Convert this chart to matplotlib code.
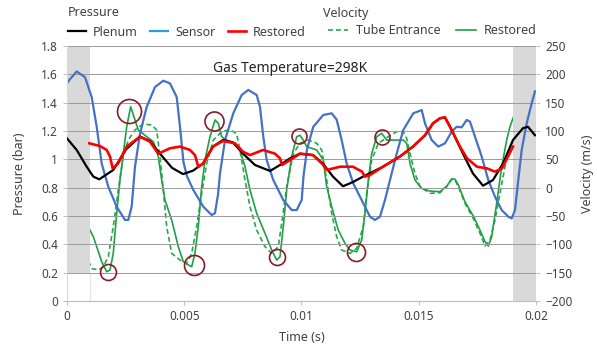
import numpy as np
import matplotlib
matplotlib.use("Agg")
import matplotlib.pyplot as plt
from matplotlib.lines import Line2D

plt.rcParams['font.family'] = ['Noto Sans', 'DejaVu Sans']

# ---- data (time in ms, pressure in bar, velocity in m/s) ----
t_plenum = [0, 0.414, 0.840, 1.122, 1.377, 1.974, 2.516, 3.113, 3.539, 3.966, 4.478, 4.947,
            5.373, 5.800, 6.226, 6.653, 7.079, 7.506, 8.018, 8.657, 9.084, 9.510, 9.936,
            10.491, 10.917, 11.344, 11.770, 12.196, 12.623, 13.476, 14.200, 14.755, 15.267,
            15.608, 15.906, 16.119, 16.333, 16.887, 17.313, 17.740, 18.166, 18.593, 19.019,
            19.446, 19.659, 19.957]
p_plenum = [1.148, 1.066, 0.948, 0.878, 0.859, 0.925, 1.07, 1.16, 1.13, 1.04, 0.94, 0.896,
            0.92, 0.97, 1.09, 1.137, 1.12, 1.04, 0.96, 0.918, 0.96, 1.007, 1.04,
            1.03, 0.97, 0.878, 0.81, 0.84, 0.878, 0.948, 1.02, 1.09, 1.17,
            1.254, 1.29, 1.296, 1.23, 1.04, 0.90, 0.814, 0.854, 0.97, 1.136,
            1.22, 1.23, 1.17]

t_sensor = [0.021, 0.098, 0.414, 0.768, 1.053, 1.267, 1.480, 1.761, 2.119, 2.473, 2.614,
            2.759, 2.900, 3.113, 3.399, 3.753, 4.107, 4.392, 4.678, 4.819, 4.968, 5.117,
            5.386, 5.812, 6.171, 6.311, 6.439, 6.525, 6.738, 7.092, 7.450, 7.731, 8.090,
            8.230, 8.371, 8.516, 8.797, 9.224, 9.582, 9.795, 10.009, 10.085, 10.235,
            10.503, 10.930, 11.288, 11.501, 11.714, 11.927, 12.209, 12.635, 12.921, 13.134,
            13.347, 13.561, 13.774, 14.060, 14.341, 14.768, 15.126, 15.267, 15.553, 15.834,
            16.119, 16.405, 16.619, 16.832, 17.045, 17.186, 17.399, 17.685, 17.966, 18.252,
            18.537, 18.819, 18.964, 19.104, 19.245, 19.390, 19.603, 19.816, 19.957]
p_sensor = [1.54, 1.56, 1.62, 1.58, 1.44, 1.23, 0.97, 0.807, 0.666, 0.572, 0.572,
            0.666, 0.948, 1.18, 1.37, 1.51, 1.555, 1.536, 1.44, 1.23, 0.98, 0.88,
            0.784, 0.666, 0.607, 0.62, 0.75, 0.90, 1.136, 1.325, 1.454, 1.49, 1.454,
            1.37, 1.16, 0.995, 0.854, 0.713, 0.642, 0.642, 0.713, 0.88, 1.07,
            1.23, 1.313, 1.325, 1.28, 1.136, 0.97, 0.83, 0.69, 0.595, 0.572,
            0.595, 0.713, 0.854, 1.04, 1.207, 1.325, 1.348, 1.254, 1.136, 1.09,
            1.113, 1.195, 1.23, 1.226, 1.278, 1.266, 1.16, 1.02, 0.854, 0.736,
            0.642, 0.595, 0.583, 0.642, 0.854, 1.066, 1.254, 1.395, 1.48]

t_p_restored = [0.951, 1.407, 1.693, 1.834, 1.949, 2.175, 2.546, 3.113, 3.539, 3.893, 4.392,
                4.819, 5.245, 5.458, 5.599, 5.800, 6.226, 6.653, 7.164, 7.506, 7.804, 8.358,
                8.870, 9.084, 9.169, 9.510, 9.936, 10.491, 10.874, 11.087, 11.642, 12.196,
                12.580, 12.708, 12.921, 13.476, 14.200, 14.755, 15.267, 15.608, 15.906,
                16.119, 16.333, 16.759, 17.058, 17.484, 17.911, 18.252, 18.550, 18.806, 19.019]
p_restored = [1.113, 1.094, 1.066, 1.02, 0.936, 0.97, 1.09, 1.16, 1.125, 1.04, 1.078,
              1.09, 1.066, 1.03, 0.948, 0.97, 1.09, 1.13, 1.113, 1.054, 1.03, 1.066,
              1.04, 1.007, 0.96, 0.995, 1.04, 1.03, 0.97, 0.925, 0.948, 0.948,
              0.913, 0.878, 0.889, 0.948, 1.02, 1.09, 1.17, 1.254, 1.29,
              1.296, 1.23, 1.09, 1.007, 0.948, 0.936, 0.913, 0.936, 1.02, 1.09]

t_tube = [0.098, 0.269, 0.414, 0.554, 0.695, 0.840, 1.053, 1.335, 1.548, 1.761, 1.974, 2.188,
          2.401, 2.614, 2.900, 3.254, 3.612, 3.825, 3.966, 4.107, 4.252, 4.465, 4.819, 5.105,
          5.318, 5.531, 5.744, 5.957, 6.239, 6.597, 6.951, 7.237, 7.377, 7.591, 7.804, 8.090,
          8.443, 8.729, 9.011, 9.156, 9.369, 9.650, 9.936, 10.290, 10.648, 10.862, 11.075,
          11.288, 11.501, 11.714, 12.068, 12.354, 12.635, 12.780, 12.994, 13.275, 13.702,
          14.060, 14.341, 14.486, 14.627, 14.840, 15.054, 15.480, 15.906, 16.192, 16.405,
          16.546, 16.687, 16.972, 17.326, 17.612, 17.825, 18.038, 18.252, 18.465, 18.678,
          18.891, 19.177, 19.459, 19.744]
v_tube = [107.5, 84, 37, -21.8, -80.5, -121.8, -142.5, -145.3, -139.5, -121.8, -68.8, -4,
          55, 84, 101.8, 112.5, 110.5, 101.8, 55, -4, -68.8, -116, -127.8, -133.5,
          -116, -68.8, -10, 43, 84, 98.8, 102.5, 95, 66.5, 13.5, -33.5, -75,
          -104, -116, -104, -63, 1.8, 60, 78.3, 84, 78.3, 66.5, 13.5,
          -45.3, -86.5, -110, -116, -107, -68.8, -10, 48.8, 78.3, 90,
          98.8, 98.8, 87, 60, 25, 1.8, -10, -8.8, 1.8, 14.8,
          13.5, 1.8, -27.5, -54.3, -80.5, -103, -92.5, -57, -10, 37,
          72.5, 95, 108.8, 113.5]

t_v_restored = [0.981, 1.122, 1.267, 1.480, 1.693, 1.834, 1.974, 2.119, 2.260, 2.401, 2.546,
                2.716, 2.857, 3.040, 3.399, 3.680, 3.893, 4.038, 4.179, 4.465, 4.746, 4.960,
                5.117, 5.318, 5.458, 5.599, 5.744, 5.885, 6.098, 6.311, 6.452, 6.597, 6.810,
                7.092, 7.377, 7.591, 7.804, 8.090, 8.443, 8.729, 8.942, 9.084, 9.224, 9.369,
                9.582, 9.795, 9.936, 10.077, 10.222, 10.648, 10.930, 11.075, 11.288, 11.569,
                11.855, 12.068, 12.354, 12.567, 12.708, 12.849, 12.994, 13.207, 13.420,
                13.634, 14.060, 14.341, 14.486, 14.627, 14.840, 15.126, 15.480, 15.906,
                16.192, 16.405, 16.546, 16.687, 16.972, 17.326, 17.612, 17.825, 17.966,
                18.111, 18.324, 18.537, 18.751, 18.891, 19.032]
v_restored = [-75, -86.5, -104, -130.5, -148.3, -145.3, -116, -45.3, 13.5, 60, 107.5,
              143, 125, 101.8, 90, 81.3, 55, 13.5, -21.8, -57, -104, -130.5,
              -135, -139.5, -116, -68.8, 1.8, 48.8, 90, 119.5, 113.5, 90, 84,
              78.3, 66.5, 37, -4, -45.3, -80.5, -110, -127.8, -121.8, -68.8, -4,
              55, 90, 92.5, 84, 72.5, 66.5, 48.8, 1.8, -33.5, -75,
              -98.3, -110, -113, -92.5, -45.3, 13.5, 60, 90, 95.8,
              84, 84, 84, 78.3, 43, 13.5, -1.3, -6, -7,
              2.5, 15.5, 15, 5, -25, -50, -75, -95, -103,
              -86.5, -27.5, 37, 84, 107.5, 124]

# highlighted peaks / troughs (time ms, pressure-axis value, marker size)
t_circ = [1.761, 2.657, 5.416, 6.281, 8.968, 9.906, 12.311, 13.446]
p_circ = [0.203, 1.343, 0.254, 1.273, 0.313, 1.165, 0.344, 1.160]
s_circ = [11.5, 17.3, 14.4, 13.7, 11.5, 10.8, 13.0, 10.8]

ms = 1e-3

fig = plt.figure(figsize=(5.97, 3.49), dpi=100)
ax = fig.add_axes([0.1122, 0.1375, 0.7856, 0.7307])
ax2 = ax.twinx()

# grey shaded edges
ax.axvspan(0, 0.001, ymin=0.2 / 1.8, ymax=1, color='#d9d9d9', lw=0, zorder=0)
ax.axvspan(0.019, 0.02, color='#d9d9d9', lw=0, zorder=0)
ax.plot([0.001, 0.001], [0, 0.2], color='#e6e6e6', lw=0.8, zorder=0)

ax.set_ylim(0, 1.8)
ax.set_xlim(0, 0.02)
ax2.set_ylim(-200, 250)
ax.set_yticks(np.arange(0, 1.81, 0.2))
ax2.set_yticks(np.arange(-200, 251, 50))
ax.set_xticks([0, 0.005, 0.01, 0.015, 0.02])
ax.set_xticklabels(['0', '0.005', '0.01', '0.015', '0.02'])
ax.set_yticklabels(['%g' % round(v, 1) for v in np.arange(0, 1.81, 0.2)])
ax.grid(axis='y', color='#9a9a9a', lw=0.7)
ax.set_axisbelow(True)

for a in (ax, ax2):
    for s in ('top', 'right', 'left'):
        a.spines[s].set_visible(False)
    a.spines['bottom'].set_color('#bfbfbf')
    a.tick_params(labelsize=8.5, colors='#404040', length=3, width=0.7)
ax.spines['left'].set_visible(True)
ax.spines['left'].set_color('#d9d9d9')
ax.tick_params(axis='y', color='#bfbfbf')
ax2.tick_params(axis='y', color='#bfbfbf')
ax.tick_params(axis='x', color='#bfbfbf')

ax.plot(np.array(t_plenum) * ms, p_plenum, color='black', lw=1.6, zorder=3,
        solid_joinstyle='round')
ax.plot(np.array(t_sensor) * ms, p_sensor, color='#4472c4', lw=1.6, zorder=2,
        solid_joinstyle='round')
ax.plot(np.array(t_p_restored) * ms, p_restored, color='#ff0000', lw=1.9, zorder=4,
        solid_joinstyle='round')

ax2.plot(np.array(t_tube) * ms, v_tube, color='#27a84a', lw=1.2, ls=(0, (3, 1.8)))
ax2.plot(np.array(t_v_restored) * ms, v_restored, color='#1fa047', lw=1.2,
         solid_joinstyle='round')
for t, p, s in zip(t_circ, p_circ, s_circ):
    ax.plot(t * ms, p, 'o', ms=s, mfc='none', mec='#8b1a2b', mew=1.2, zorder=6)
ax.set_zorder(ax2.get_zorder() + 1)
ax.patch.set_visible(False)

ax.set_ylabel('Pressure (bar)', fontsize=9, color='#404040', labelpad=11)
ax2.set_ylabel('Velocity (m/s)', fontsize=9, color='#404040', labelpad=6)
ax.set_xlabel('Time (s)', fontsize=9, color='#404040', labelpad=6)
ax.text(0.0095, 1.64, 'Gas Temperature=298K', fontsize=10, ha='center', va='center',
        color='#222222')

# legends
fig.text(68 / 597, 1 - 12 / 349, 'Pressure', fontsize=9, color='#404040', va='center')
fig.text(323 / 597, 1 - 14 / 349, 'Velocity', fontsize=9, color='#404040', va='center')
h_p = [Line2D([], [], color='black', lw=1.6),
       Line2D([], [], color='#2e9de0', lw=1.6),
       Line2D([], [], color='#ff0000', lw=1.9)]
fig.legend(h_p, ['Plenum', 'Sensor', 'Restored'], loc='center left',
           bbox_to_anchor=(68 / 597, 1 - 32 / 349), ncol=3, frameon=False,
           fontsize=9, handlelength=1.4, handletextpad=0.6, columnspacing=1.0,
           borderpad=0, borderaxespad=0, labelcolor='#404040')
h_v = [Line2D([], [], color='#27a84a', lw=1.2, ls=(0, (3, 1.8))),
       Line2D([], [], color='#1fa047', lw=1.2)]
fig.legend(h_v, ['Tube Entrance', 'Restored'], loc='center left',
           bbox_to_anchor=(328 / 597, 1 - 31 / 349), ncol=2, frameon=False,
           fontsize=9, handlelength=1.6, handletextpad=0.6, columnspacing=1.3,
           borderpad=0, borderaxespad=0, labelcolor='#404040')

fig.savefig('out.png', dpi=100)
